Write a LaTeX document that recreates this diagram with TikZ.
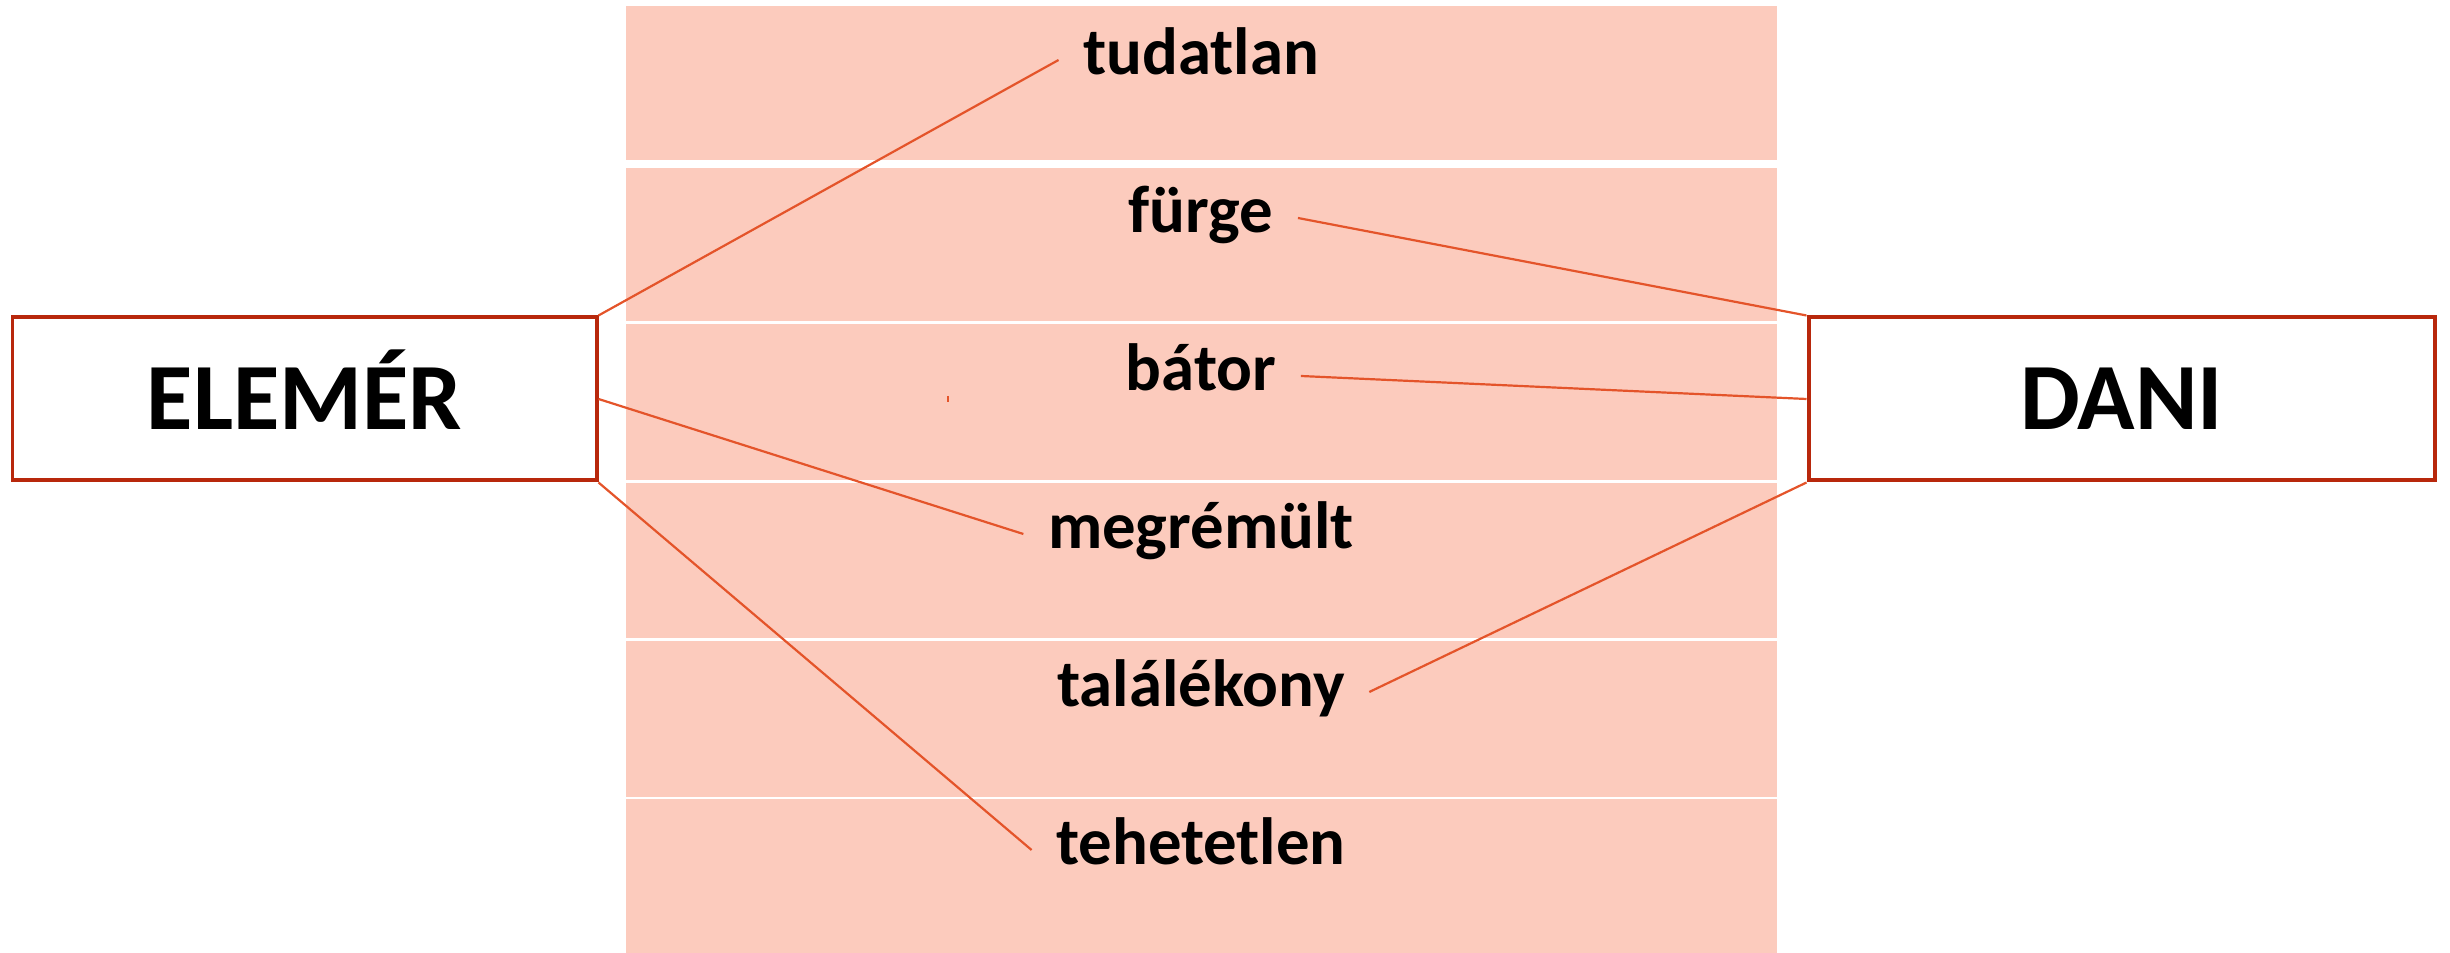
\documentclass[tikz,border=0pt]{standalone}
\usepackage{fontspec}
\setmainfont{Carlito}

\definecolor{salmon}{RGB}{252,203,189}
\definecolor{boxred}{RGB}{184,40,12}
\definecolor{linkred}{RGB}{228,84,42}

\begin{document}
\begin{tikzpicture}[word/.style={font=\fontsize{19}{23}\selectfont\bfseries,
                      text height=0.4cm,text depth=0.1cm,
                      inner xsep=0.24cm,inner ysep=0pt},
                    namebox/.style={draw=boxred,line width=0.04cm,fill=white,
                      minimum height=1.63cm,text height=0.62cm,text depth=0pt,
                      font=\fontsize{27}{32}\selectfont\bfseries},
                    link/.style={draw=linkred,line width=0.022cm}]
  \useasboundingbox (0,0) rectangle (24.5,9.53);

  % the pink rows
  \foreach \top/\bot in {9.47/7.93,7.85/6.32,6.29/4.73,4.70/3.15,3.12/1.56,1.54/0}
    \fill[salmon] (6.26,\bot) rectangle (17.77,\top);

      \matrix (m) at (12.01,4.98) [row sep=1.08cm] {
      \node[word](tud){tudatlan}; \\
      \node[word](furge){fürge}; \\
      \node[word](bator){bátor}; \\
      \node[word](meg){megrémült}; \\
      \node[word](tal){találékony}; \\
      \node[word](teh){tehetetlen}; \\
      };

  \node[namebox,minimum width=5.84cm](elemer) at (3.045,5.54) {ELEMÉR};
  \node[namebox,minimum width=6.26cm](dani) at (21.215,5.54) {DANI};

  \path[link] (elemer.north east) -- (tud.west)
              (elemer.east)       -- (meg.west)
              (elemer.south east) -- (teh.west)
              (dani.north west)   -- (furge.east)
              (dani.west)         -- (bator.east)
              (dani.south west)   -- (tal.east);

  \coordinate (tick) at (9.48,5.57);
  \draw[link] (tick) -- ++(0,-0.06);
\end{tikzpicture}
\end{document}
